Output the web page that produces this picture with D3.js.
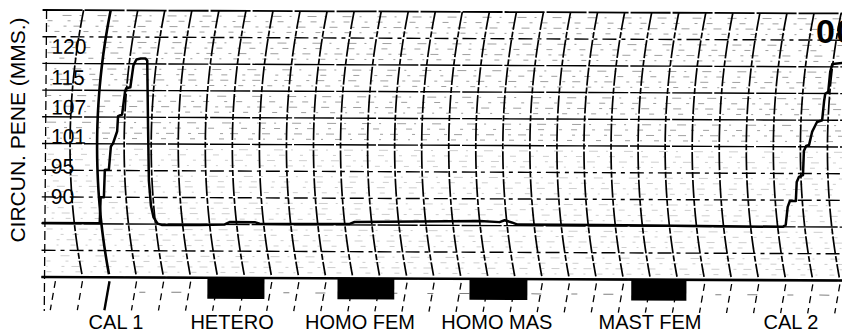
<!DOCTYPE html>
<html>
<head>
<meta charset="utf-8">
<script src="https://cdn.jsdelivr.net/npm/d3@7"></script>
<style>
  html, body { margin: 0; padding: 0; background: #fff; }
  svg { display: block; }
  text { font-family: "Liberation Sans", Arial, sans-serif; fill: #000; }
</style>
</head>
<body>
<svg id="chart" width="842" height="333"></svg>
<script>
// Pen trace: time and pen level, both in chart divisions
const traceTime = [0, 2.11, 2.14, 2.26, 2.29, 2.44, 2.51, 2.59, 2.74, 2.77,
  2.92, 3.03, 3.07, 3.22, 3.33, 3.44, 3.60, 3.77, 3.84, 3.88,
  3.92, 4.00, 4.10, 4.25, 4.40, 4.70, 5.80, 6.73, 6.91, 7.84,
  8.02, 9.50, 11.35, 11.53, 16.16, 16.89, 17.08, 17.34, 17.56, 20.59,
  24.29, 27.36, 27.47, 27.54, 27.62, 27.84, 27.87, 27.95, 28.10, 28.13,
  28.21, 28.32, 28.43, 28.61, 28.80, 28.87, 28.91, 29.02, 29.09, 29.17, 29.60];
const traceLevel = [2.02, 2.02, 3.00, 3.00, 4.02, 4.04, 4.90, 5.02, 5.47, 6.04,
  6.10, 7.00, 7.08, 7.12, 7.94, 8.16, 8.20, 8.20, 8.13, 5.69,
  3.63, 2.70, 2.25, 2.02, 1.97, 1.98, 1.97, 2.00, 2.09, 2.09,
  2.03, 2.03, 2.04, 2.11, 2.17, 2.13, 2.20, 2.12, 2.04, 2.04,
  2.02, 2.00, 2.07, 2.75, 2.97, 2.97, 3.68, 3.87, 3.94, 4.84,
  5.03, 5.07, 5.56, 5.93, 6.00, 6.72, 6.99, 7.06, 7.81, 8.11, 8.15];

// Event marker channel: stimulus on/off times (chart divisions)
const eventStart = [6.10, 10.91, 15.79, 21.77];
const eventEnd   = [8.21, 13.01, 17.93, 23.81];

// Calibration readings written beside the first calibration staircase
const calibValues = ["120", "115", "107", "101", "95", "90"];
const calibLevels = [8.65, 7.49, 6.37, 5.28, 4.16, 3.03];

// Phase names written under the time axis
const phaseNames = ["CAL 1", "HETERO", "HOMO FEM", "HOMO MAS", "MAST FEM", "CAL 2"];
const phaseTimes = [2.70, 6.99, 11.72, 16.78, 22.44, 27.65];

const yTitle = "CIRCUN. PENE (MMS.)";
const sheetNumber = "00";

// ---------------------------------------------------------------
const svg = d3.select("#chart");

const x = d3.scaleLinear().domain([0, 30]).range([43, 43 + 27.05 * 30]);
const y = d3.scaleLinear().domain([0, 10]).range([277, 10]);
const ev = d3.scaleLinear().domain([0, 1]).range([277, 298]);

// chart-paper time lines are arcs swept by the pen arm
const arcRadius = 685;
const arcMid = (y(0) + y(10)) / 2;
const bow = py => (py - arcMid) * (py - arcMid) / (2 * arcRadius);

const paper = svg.append("g").attr("transform", `rotate(0.25, 42, ${arcMid})`);

// minor horizontal rulings (printed faintly, heavier in the upper half)
const minorLevels = d3.range(0, 10, 0.2).filter(v => Math.abs(v - Math.round(v)) > 0.01);
const minorDash = ["5,10,2,12", "8,14,3,7", "3,9,6,15", "9,8,2,16"];
paper.append("g").selectAll("line").data(minorLevels).join("line")
  .attr("x1", 47).attr("x2", 860)
  .attr("y1", d => y(d)).attr("y2", d => y(d))
  .attr("stroke", "#000")
  .attr("stroke-width", 0.9)
  .attr("stroke-opacity", d => d > 5 ? 0.42 : 0.22)
  .attr("stroke-dasharray", (d, i) => minorDash[i % 4])
  .attr("stroke-dashoffset", (d, i) => (i * 7) % 23);

// major horizontal rulings
const majorLevels = d3.range(0, 11);
paper.append("g").selectAll("line").data(majorLevels).join("line")
  .attr("x1", 42).attr("x2", 860)
  .attr("y1", d => y(d)).attr("y2", d => y(d))
  .attr("stroke", "#000")
  .attr("stroke-width", d => d === 10 ? 1.8 : 1.4)
  .attr("stroke-dasharray", d => (d === 1 || d === 3 || d === 4 || d === 9) ? "14,5,4,5" : "40,2");

// time arcs
const arcLine = d3.line().x(d => d[0]).y(d => d[1]);
const arcIdx = d3.range(1, 31);
paper.append("g").selectAll("path").data(arcIdx).join("path")
  .attr("d", k => arcLine(d3.range(y(10), y(0) + 0.1, 4).map(py => [x(k) + bow(py), py])))
  .attr("fill", "none")
  .attr("stroke", "#000")
  .attr("stroke-width", k => k === 2 ? 2.6 : 1.7)
  .attr("stroke-dasharray", k => k === 2 ? null : "18,2,6,2");

// left edge of the ruled area
paper.append("line")
  .attr("x1", 46).attr("x2", 45).attr("y1", y(10)).attr("y2", y(0) + 34)
  .attr("stroke", "#000").attr("stroke-width", 1.3).attr("stroke-dasharray", "9,4");

// arc stubs in the event channel
paper.append("g").selectAll("line").data(d3.range(0, 31)).join("line")
  .attr("x1", k => x(k) + bow(y(0)))
  .attr("y1", y(0) + 4)
  .attr("x2", k => x(k) + bow(y(0)) - 5)
  .attr("y2", y(0) + 33)
  .attr("stroke", "#000")
  .attr("stroke-width", k => k === 2 ? 2.4 : 1.3)
  .attr("stroke-dasharray", k => k === 2 ? null : "7,5");

// faint ruling in the event channel
paper.append("line")
  .attr("x1", 140).attr("x2", 860).attr("y1", ev(0.7)).attr("y2", ev(0.7))
  .attr("stroke", "#000").attr("stroke-width", 1).attr("stroke-opacity", 0.5)
  .attr("stroke-dasharray", "6,26,10,30");

// event pen: base line and stimulus blocks
paper.append("line")
  .attr("x1", x(0) - 1).attr("x2", 860)
  .attr("y1", ev(0)).attr("y2", ev(0))
  .attr("stroke", "#000").attr("stroke-width", 2.6);
paper.append("g").selectAll("rect").data(eventStart).join("rect")
  .attr("x", (d, i) => x(d))
  .attr("y", ev(0))
  .attr("width", (d, i) => x(eventEnd[i]) - x(d))
  .attr("height", ev(1) - ev(0))
  .attr("fill", "#000");

// pen trace
const trace = traceTime.map((t, i) => [t, traceLevel[i]]);
paper.append("path")
  .datum(trace)
  .attr("d", d3.line().x(d => x(d[0])).y(d => y(d[1])))
  .attr("fill", "none")
  .attr("stroke", "#000")
  .attr("stroke-width", 2.5)
  .attr("stroke-linejoin", "round")
  .attr("stroke-linecap", "round");

// calibration readings
paper.append("g").selectAll("text").data(calibValues).join("text")
  .attr("x", 51)
  .attr("y", (d, i) => y(calibLevels[i]))
  .attr("dy", "0.36em")
  .attr("font-size", 21)
  .text(d => d);

// phase names
svg.append("g").selectAll("text").data(phaseNames).join("text")
  .attr("x", (d, i) => x(phaseTimes[i]))
  .attr("y", 329)
  .attr("text-anchor", "middle")
  .attr("font-size", 20)
  .text(d => d);

// vertical axis title
svg.append("text")
  .attr("transform", "translate(25,130) rotate(-90)")
  .attr("text-anchor", "middle")
  .attr("font-size", 21)
  .text(yTitle);

// sheet number, running off the right edge of the sheet
svg.append("text")
  .attr("x", 816).attr("y", 43)
  .attr("font-size", 34)
  .attr("font-weight", "bold")
  .attr("letter-spacing", 1)
  .style("font-family", '"Liberation Sans Narrow", "Liberation Sans", sans-serif')
  .text(sheetNumber);
</script>
</body>
</html>
